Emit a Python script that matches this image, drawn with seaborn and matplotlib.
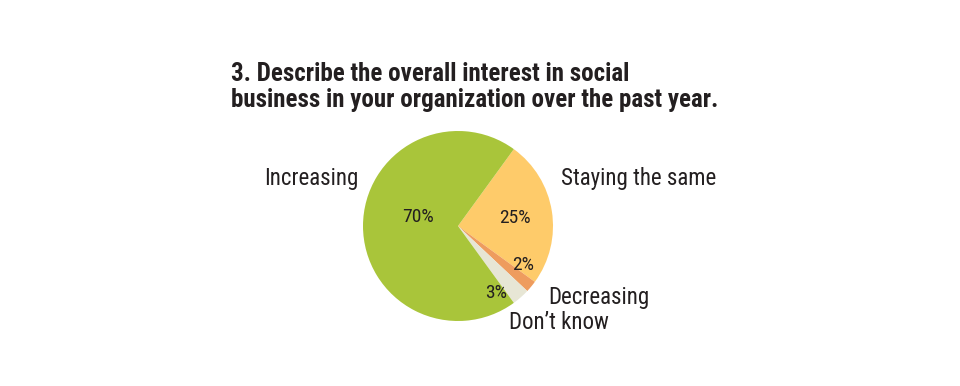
import seaborn as sns
import matplotlib.pyplot as plt

# Survey answers (percent)
answers = ["Staying the same", "Decreasing", "Don\u2019t know", "Increasing"]
shares = [25, 2, 3, 70]
colors = ["#fecb6a", "#ee9c5e", "#e7e6d5", "#a9c53a"]

sns.set_style("white")
plt.rcParams["font.family"] = ["Roboto Condensed", "Archivo Narrow", "PT Sans Narrow", "DejaVu Sans"]
ink = "#231f20"

fig = plt.figure(figsize=(9.6, 3.86), dpi=100)
W, H = 960, 386
cx, cy, r = 458, 226, 95
ax = fig.add_axes([(cx - 3 * r) / W, (H - cy - 1.5 * r) / H, 6 * r / W, 3 * r / H])

ax.pie(shares, colors=colors, startangle=54, counterclock=False,
       wedgeprops=dict(linewidth=0))
ax.set_xlim(-3, 3)
ax.set_ylim(-1.5, 1.5)
ax.axis("off")

# percentage labels inside wedges
pct_pos = [(0.60, 0.08), (0.69, -0.41), (0.40, -0.70), (-0.42, 0.10)]
for (x, y), v in zip(pct_pos, shares):
    ax.text(x, y, f"{v}%", ha="center", va="center", fontsize=14, color=ink)

# category labels outside
lab_pos = [(1.08, 0.50, "left"), (0.95, -0.75, "left"),
           (0.54, -1.02, "left"), (-1.05, 0.50, "right")]
for (x, y, ha), name in zip(lab_pos, answers):
    ax.text(x, y, name, ha=ha, va="center", fontsize=16.5, color=ink)

fig.text(231 / W, 1 - 81 / H, "3. Describe the overall interest in social",
         fontsize=18, fontweight="bold", color=ink, va="baseline")
fig.text(231 / W, 1 - 107 / H, "business in your organization over the past year.",
         fontsize=18, fontweight="bold", color=ink, va="baseline")

plt.savefig("out.png", dpi=100)
